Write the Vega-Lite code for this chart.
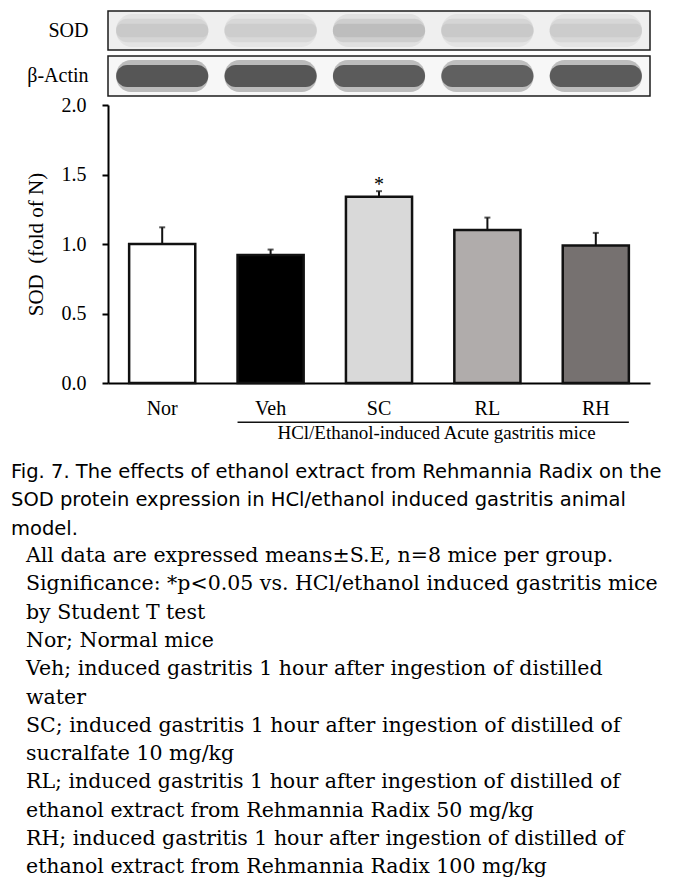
{
  "$schema": "https://vega.github.io/schema/vega-lite/v6.json",
  "padding": {"left": 11, "top": 10, "right": 0, "bottom": 0},
  "spacing": -2,
  "background": "white",
  "config": {
    "font": "Liberation Serif",
    "axis": {"labelColor": "black", "titleColor": "black", "domainColor": "black", "tickColor": "black", "grid": false, "titleFontWeight": "normal"},
    "title": {"color": "black", "fontWeight": "normal"}
  },
  "datasets": {
    "bars": [
      {"group": "Nor", "mean": 1.00, "upper": 1.12, "sig": ""},
      {"group": "Veh", "mean": 0.92, "upper": 0.96, "sig": ""},
      {"group": "SC", "mean": 1.34, "upper": 1.38, "sig": "*"},
      {"group": "RL", "mean": 1.10, "upper": 1.19, "sig": ""},
      {"group": "RH", "mean": 0.99, "upper": 1.08, "sig": ""}
    ],
    "blot": [
      {"protein": "SOD", "group": "Nor", "intensity": 0.22},
      {"protein": "SOD", "group": "Veh", "intensity": 0.20},
      {"protein": "SOD", "group": "SC", "intensity": 0.27},
      {"protein": "SOD", "group": "RL", "intensity": 0.22},
      {"protein": "SOD", "group": "RH", "intensity": 0.21},
      {"protein": "β-Actin", "group": "Nor", "intensity": 0.68},
      {"protein": "β-Actin", "group": "Veh", "intensity": 0.68},
      {"protein": "β-Actin", "group": "SC", "intensity": 0.66},
      {"protein": "β-Actin", "group": "RL", "intensity": 0.64},
      {"protein": "β-Actin", "group": "RH", "intensity": 0.66}
    ],
    "bracket": [
      {"start": "Veh", "end": "RH"}
    ]
  },
  "title": {
    "text": [
      "All data are expressed means±S.E, n=8 mice per group.",
      "Significance: *p<0.05 vs. HCl/ethanol induced gastritis mice",
      "by Student T test",
      "Nor; Normal mice",
      "Veh; induced gastritis 1 hour after ingestion of distilled",
      "water",
      "SC; induced gastritis 1 hour after ingestion of distilled of",
      "sucralfate 10 mg/kg",
      "RL; induced gastritis 1 hour after ingestion of distilled of",
      "ethanol extract from Rehmannia Radix 50 mg/kg",
      "RH; induced gastritis 1 hour after ingestion of distilled of",
      "ethanol extract from Rehmannia Radix 100 mg/kg"
    ],
    "orient": "bottom",
    "anchor": "start",
    "frame": "bounds",
    "dx": 15,
    "offset": 8,
    "font": "DejaVu Serif",
    "fontSize": 20.5,
    "fontWeight": "normal",
    "lineHeight": 28.3,
    "color": "black"
  },
  "resolve": {"scale": {"x": "independent", "y": "independent", "color": "independent"}},
  "vconcat": [
    {
      "spacing": 4,
      "resolve": {"scale": {"x": "independent", "y": "independent", "color": "independent"}},
      "vconcat": [
        {
          "width": 542,
          "height": 39,
          "view": {"stroke": "#1c1c1c", "strokeWidth": 1.5, "fill": "#efefef"},
          "data": {"name": "blot"},
          "transform": [{"filter": "datum.protein === 'SOD'"}],
          "encoding": {
            "x": {"field": "group", "type": "nominal", "scale": {"domain": ["Nor", "Veh", "SC", "RL", "RH"], "paddingInner": 0.15, "paddingOuter": 0.075}, "axis": null},
            "y": {"field": "protein", "type": "nominal", "scale": {"paddingInner": 0, "paddingOuter": 0}, "axis": {"title": null, "ticks": false, "domain": false, "labelFontSize": 20, "labelPadding": 20, "labelFont": "Liberation Serif"}},
            "color": {"field": "intensity", "type": "quantitative", "scale": {"domain": [0, 1], "range": ["#ffffff", "#000000"]}, "legend": null}
          },
          "layer": [
            {"mark": {"type": "bar", "height": {"band": 0.85}, "cornerRadius": 16, "opacity": 0.25}},
            {"mark": {"type": "bar", "height": {"band": 0.6}, "cornerRadius": 11, "opacity": 0.4}},
            {"mark": {"type": "bar", "height": {"band": 0.34}, "cornerRadius": 6, "opacity": 0.6}}
          ]
        },
        {
          "width": 542,
          "height": 40,
          "view": {"stroke": "#1c1c1c", "strokeWidth": 1.5, "fill": "#f7f7f7"},
          "data": {"name": "blot"},
          "transform": [{"filter": "datum.protein === 'β-Actin'"}],
          "encoding": {
            "x": {"field": "group", "type": "nominal", "scale": {"domain": ["Nor", "Veh", "SC", "RL", "RH"], "paddingInner": 0.15, "paddingOuter": 0.075}, "axis": null},
            "y": {"field": "protein", "type": "nominal", "scale": {"paddingInner": 0, "paddingOuter": 0}, "axis": {"title": null, "ticks": false, "domain": false, "labelFontSize": 20, "labelPadding": 20, "labelFont": "Liberation Serif"}},
            "color": {"field": "intensity", "type": "quantitative", "scale": {"domain": [0, 1], "range": ["#ffffff", "#000000"]}, "legend": null}
          },
          "layer": [
            {"mark": {"type": "bar", "height": {"band": 0.8}, "cornerRadius": 15, "opacity": 0.35}},
            {"mark": {"type": "bar", "height": {"band": 0.55}, "cornerRadius": 11, "opacity": 0.9}}
          ]
        }
      ]
    },
    {
      "width": 542,
      "height": 278,
      "view": {"stroke": null},
      "title": {
        "text": [
          "Fig. 7. The effects of ethanol extract from Rehmannia Radix on the",
          "SOD protein expression in HCl/ethanol induced gastritis animal",
          "model."
        ],
        "orient": "bottom",
        "anchor": "start",
        "frame": "group",
        "dx": -97,
        "offset": 21,
        "font": "DejaVu Sans",
        "fontSize": 19.5,
        "fontWeight": "normal",
        "lineHeight": 28.3,
        "color": "black"
      },
      "layer": [
        {
          "data": {"name": "bars"},
          "mark": {"type": "bar", "stroke": "#111111", "strokeWidth": 2.5},
          "encoding": {
            "x": {"field": "group", "type": "nominal", "scale": {"domain": ["Nor", "Veh", "SC", "RL", "RH"], "paddingInner": 0.39, "paddingOuter": 0.195},
              "axis": {"title": "HCl/Ethanol-induced Acute gastritis mice", "titleFontSize": 19, "titleFont": "Liberation Serif", "titleX": 328, "titlePadding": 5, "labelAngle": 0, "labelFontSize": 20, "labelPadding": 15, "ticks": false, "tickSize": 0, "domainWidth": 2}},
            "y": {"field": "mean", "type": "quantitative", "scale": {"domain": [0, 2], "nice": false, "zero": true},
              "axis": {"title": "SOD\u00a0 (fold of N)", "titleFontSize": 21, "titlePadding": 15, "values": [0, 0.5, 1, 1.5, 2], "format": ".1f", "labelFontSize": 20, "labelPadding": 16, "tickSize": 6, "tickWidth": 2, "domainWidth": 2}},
            "color": {"field": "group", "type": "nominal", "scale": {"domain": ["Nor", "Veh", "SC", "RL", "RH"], "range": ["#ffffff", "#000000", "#d9d9d9", "#b0acab", "#767170"]}, "legend": null}
          }
        },
        {
          "data": {"name": "bars"},
          "mark": {"type": "rule", "strokeWidth": 2, "color": "#111111"},
          "encoding": {
            "x": {"field": "group", "type": "nominal"},
            "y": {"field": "mean", "type": "quantitative"},
            "y2": {"field": "upper"}
          }
        },
        {
          "data": {"name": "bars"},
          "mark": {"type": "tick", "orient": "horizontal", "thickness": 2, "size": 6, "color": "#111111"},
          "encoding": {
            "x": {"field": "group", "type": "nominal"},
            "y": {"field": "upper", "type": "quantitative"}
          }
        },
        {
          "data": {"name": "bars"},
          "mark": {"type": "text", "font": "Liberation Serif", "fontSize": 20, "baseline": "alphabetic", "dy": 0, "color": "black"},
          "encoding": {
            "x": {"field": "group", "type": "nominal"},
            "y": {"field": "upper", "type": "quantitative"},
            "text": {"field": "sig"}
          }
        },
        {
          "data": {"name": "bracket"},
          "mark": {"type": "rule", "strokeWidth": 1.5, "color": "#111111"},
          "encoding": {
            "x": {"field": "start", "type": "nominal", "bandPosition": 0},
            "x2": {"field": "end", "bandPosition": 1},
            "y": {"datum": -0.283}
          }
        }
      ]
    }
  ]
}
